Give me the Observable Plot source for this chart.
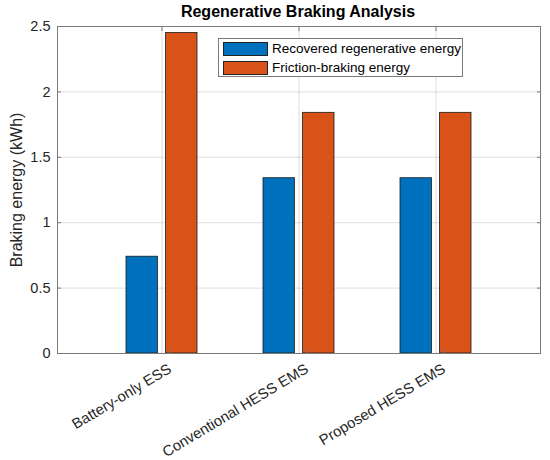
<!DOCTYPE html>
<html><head><meta charset="utf-8">
<script src="https://cdn.jsdelivr.net/npm/d3@7"></script>
<script src="https://cdn.jsdelivr.net/npm/@observablehq/plot@0.6"></script>
<style>
body{margin:0;background:#fff;font-family:"Liberation Sans",Arial,sans-serif;}
#wrap{position:relative;width:550px;height:460px;overflow:hidden;}
#title{height:20px;line-height:20px;padding-top:2px;padding-left:46px;text-align:center;font-weight:bold;font-size:16px;color:#000;}
#legend{position:absolute;left:218px;top:38px;width:243px;height:37px;border:1px solid #7a7a7a;background:#fff;font-size:13.5px;color:#000;}
.row{position:absolute;left:4px;height:13px;display:flex;align-items:center;white-space:nowrap;}
.sw{width:43px;height:12px;border:1px solid #222;margin-right:4px;flex:none;}
</style></head>
<body><div id="wrap"><div id="title">Regenerative Braking Analysis</div><div id="chart"></div><div id="legend"></div></div>
<script>
const categories = ["Battery-only ESS", "Conventional HESS EMS", "Proposed HESS EMS"];
const seriesNames = ["Recovered regenerative energy", "Friction-braking energy"];
const recovered = [0.74, 1.34, 1.34];
const friction = [2.45, 1.84, 1.84];
const yTicks = [0, 0.5, 1, 1.5, 2, 2.5];
const yLabel = "Braking energy (kWh)";
const colors = ["#0072BD", "#D95319"];

const recData = categories.map((c, i) => ({cat: c, value: recovered[i]}));
const friData = categories.map((c, i) => ({cat: c, value: friction[i]}));

const chart = Plot.plot({
  width: 550, height: 438,
  marginTop: 4, marginRight: 10, marginBottom: 107, marginLeft: 57,
  style: {fontFamily: "Liberation Sans, Arial, sans-serif", fontSize: "14.5px", color: "#262626", background: "#fff", overflow: "visible"},
  x: {domain: categories, paddingInner: 0.4815, paddingOuter: 0.498},
  y: {domain: [0, 2.5]},
  marks: [
    Plot.gridY(yTicks, {stroke: "#000", strokeOpacity: 0.13}),
    Plot.gridX(categories, {stroke: "#000", strokeOpacity: 0.13}),
    Plot.barY(recData, {x: "cat", y: "value", fill: colors[0], stroke: "#1a1a1a", strokeWidth: 0.8, insetRight: 39.6}),
    Plot.barY(friData, {x: "cat", y: "value", fill: colors[1], stroke: "#1a1a1a", strokeWidth: 0.8, insetLeft: 39.6}),
    Plot.frame({stroke: "#7a7a7a"}),
    Plot.axisY({ticks: yTicks, tickSize: -4, tickPadding: 11, stroke: "#7a7a7a", label: null, tickFormat: d => String(d)}),
    Plot.axisY({anchor: "right", ticks: yTicks, tickSize: -4, stroke: "#7a7a7a", label: null, tickFormat: () => ""}),
    Plot.axisX({tickRotate: -31, tickSize: -4, tickPadding: 18, dx: 8, fontSize: 14.8, stroke: "#7a7a7a", label: null}),
    Plot.axisX({anchor: "top", tickSize: -4, stroke: "#7a7a7a", label: null, tickFormat: () => ""}),
    Plot.text([yLabel], {frameAnchor: "left", rotate: -90, dx: -40.7, fontSize: 16, fill: "#262626", lineAnchor: "middle", textAnchor: "middle"})
  ]
});
document.getElementById("chart").appendChild(chart);

const legend = document.getElementById("legend");
seriesNames.forEach((name, i) => {
  const row = document.createElement("div");
  row.className = "row";
  row.style.top = (i === 0 ? 3 : 22) + "px";
  const sw = document.createElement("div");
  sw.className = "sw";
  sw.style.background = colors[i];
  const t = document.createElement("span");
  t.textContent = name;
  row.appendChild(sw); row.appendChild(t);
  legend.appendChild(row);
});
</script>
</body></html>
